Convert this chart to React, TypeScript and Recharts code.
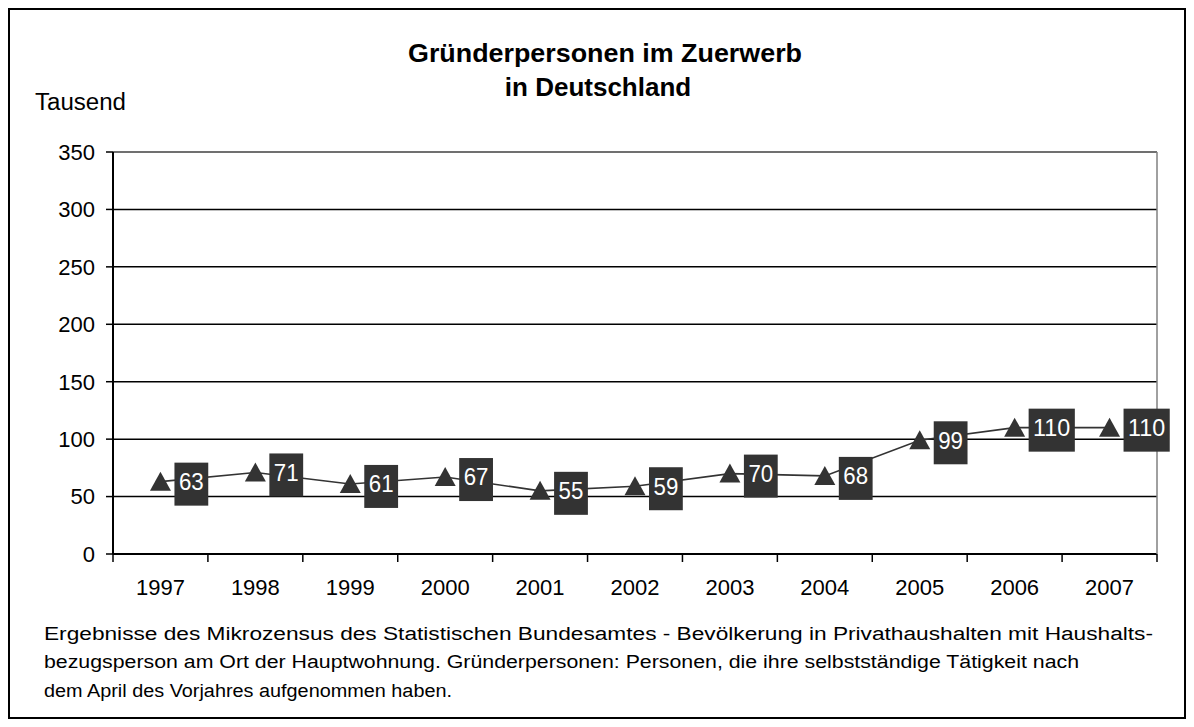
import React from 'react';
import { LineChart, Line, XAxis, YAxis, CartesianGrid, ReferenceLine, LabelList } from 'recharts';

const years = ['1997', '1998', '1999', '2000', '2001', '2002', '2003', '2004', '2005', '2006', '2007'];
const values = [63, 71, 61, 67, 55, 59, 70, 68, 99, 110, 110];
const yTicks = [0, 50, 100, 150, 200, 250, 300, 350];
const titleLines = ['Gründerpersonen im Zuerwerb', 'in Deutschland'];
const unitLabel = 'Tausend';
const footnoteLines = [
  'Ergebnisse des Mikrozensus des Statistischen Bundesamtes - Bevölkerung in Privathaushalten mit Haushalts-',
  'bezugsperson am Ort der Hauptwohnung. Gründerpersonen: Personen, die ihre selbstständige Tätigkeit nach',
  'dem April des Vorjahres aufgenommen haben.',
];

const data = years.map((y, i) => ({ year: y, value: values[i] }));

const FONT = '"Liberation Sans", Arial, sans-serif';
const W = 1178;
const H = 711;
const TICK_SIZE = 8;
const TICK_MARGIN = 17;

const Triangle = (props: any) => {
  const { cx, cy, index } = props;
  if (cx == null || cy == null) return <g key={`t${index}`} />;
  return (
    <polygon
      key={`t${index}`}
      points={`${cx},${cy - 10} ${cx - 10.5},${cy + 9} ${cx + 10.5},${cy + 9}`}
      fill="#333333"
    />
  );
};

const BoxLabel = (props: any) => {
  const { x, y, value } = props;
  if (x == null || y == null) return null;
  const s = String(value);
  const w = 9 + s.length * 12.4;
  const left = x + 14;
  return (
    <g>
      <rect x={left} y={y - 19} width={w} height={43} fill="#333333" />
      <text
        x={left + w / 2}
        y={y}
        dy="0.36em"
        textAnchor="middle"
        fill="#ffffff"
        fontSize={23}
        fontFamily={FONT}
        textLength={s.length * 12.4}
        lengthAdjust="spacingAndGlyphs"
      >
        {s}
      </text>
    </g>
  );
};

const YearTick = (props: any) => {
  const { x, y, payload, index, visibleTicksCount } = props;
  const half = payload && payload.offset ? payload.offset : 0;
  const axisY = y - TICK_SIZE - TICK_MARGIN;
  const isLast = index === visibleTicksCount - 1;
  return (
    <g>
      <line x1={x - half} x2={x - half} y1={axisY} y2={axisY + TICK_SIZE} stroke="#000" strokeWidth={1.5} />
      {isLast && (
        <line x1={x + half} x2={x + half} y1={axisY} y2={axisY + TICK_SIZE} stroke="#000" strokeWidth={1.5} />
      )}
      <text x={x} y={y} dy="0.71em" textAnchor="middle" fill="#000" fontSize={22} fontFamily={FONT}>
        {payload.value}
      </text>
    </g>
  );
};

export default function App() {
  return (
    <div style={{ position: 'relative', width: W, height: H, background: '#fff' }}>
      <LineChart
        width={W}
        height={H}
        data={data}
        margin={{ top: 144, right: 28, bottom: 125, left: 45 }}
        style={{ fontFamily: FONT }}
      >
        <CartesianGrid horizontal vertical={false} stroke="#000" strokeWidth={1.5} />
        <XAxis
          dataKey="year"
          scale="band"
          tickLine={false}
          tickSize={TICK_SIZE}
          tickMargin={TICK_MARGIN}
          axisLine={{ stroke: '#000', strokeWidth: 2 }}
          tick={YearTick}
          interval={0}
          height={40}
        />
        <YAxis
          domain={[0, 350]}
          ticks={yTicks}
          width={60}
          tickSize={7}
          tickMargin={11}
          axisLine={{ stroke: '#000', strokeWidth: 2 }}
          tickLine={{ stroke: '#000', strokeWidth: 1.5 }}
          tick={{ fill: '#000', fontSize: 22, fontFamily: FONT }}
          interval={0}
        />
        <YAxis
          yAxisId="frame"
          orientation="right"
          domain={[0, 350]}
          width={1}
          tick={false}
          tickLine={false}
          axisLine={{ stroke: '#808080', strokeWidth: 1.5 }}
        />
        <ReferenceLine y={350} stroke="#808080" strokeWidth={1.5} />
        <Line
          dataKey="value"
          stroke="#333333"
          strokeWidth={1.6}
          dot={Triangle}
          activeDot={false}
          isAnimationActive={false}
        >
          <LabelList dataKey="value" content={BoxLabel} />
        </Line>
      </LineChart>
      <svg
        width={W}
        height={H}
        style={{ position: 'absolute', left: 0, top: 0, pointerEvents: 'none' }}
      >
        <text x={597} y={54} textAnchor="middle" fontSize={26} fontWeight="bold" fontFamily={FONT} fill="#000" textLength={394} lengthAdjust="spacingAndGlyphs">
          {titleLines[0]}
        </text>
        <text x={590} y={88} textAnchor="middle" fontSize={26} fontWeight="bold" fontFamily={FONT} fill="#000">
          {titleLines[1]}
        </text>
        <text x={27} y={102} fontSize={23} fontFamily={FONT} fill="#000" textLength={91} lengthAdjust="spacingAndGlyphs">
          {unitLabel}
        </text>
        <text x={36} y={632} fontSize={18} fontFamily={FONT} fill="#000" textLength={1109} lengthAdjust="spacingAndGlyphs">
          {footnoteLines[0]}
        </text>
        <text x={36} y={660} fontSize={18} fontFamily={FONT} fill="#000" textLength={1035} lengthAdjust="spacingAndGlyphs">
          {footnoteLines[1]}
        </text>
        <text x={36} y={688.5} fontSize={18} fontFamily={FONT} fill="#000" textLength={408} lengthAdjust="spacingAndGlyphs">
          {footnoteLines[2]}
        </text>
      </svg>
      <div
        style={{
          position: 'absolute',
          left: 0,
          top: 0,
          width: W,
          height: H,
          border: '2px solid #000',
          boxSizing: 'border-box',
          pointerEvents: 'none',
        }}
      />
    </div>
  );
}
